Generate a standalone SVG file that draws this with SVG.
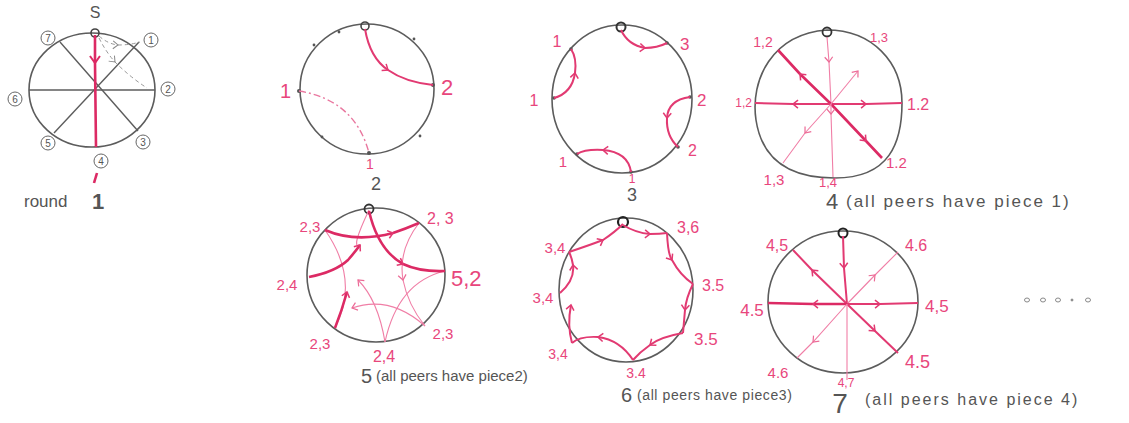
<svg xmlns="http://www.w3.org/2000/svg" width="1129" height="423" viewBox="0 0 1129 423">
<style>
.ring{fill:none;stroke:#5c5c5c;stroke-width:1.6}
.blk{fill:none;stroke:#5c5c5c;stroke-width:1.4}
.pk{fill:none;stroke:#e23a72;stroke-width:2}
.pkB{fill:none;stroke:#dc2a64;stroke-width:2.6}
.pkt{fill:none;stroke:#f07ea6;stroke-width:1.1}
.dash{fill:none;stroke:#999;stroke-width:1;stroke-dasharray:4 3}
.pdash{fill:none;stroke:#e9779f;stroke-width:1.4;stroke-dasharray:7 3 2 3}
.lbl{font-family:"Liberation Sans",Arial,sans-serif;fill:#e8467c}
.cap{font-family:"Liberation Sans",Arial,sans-serif;fill:#555}
.dot{fill:#555}
.num{fill:#fff;stroke:#666;stroke-width:1}
.nt{font-family:"Liberation Sans",Arial,sans-serif;fill:#555;font-size:10px;text-anchor:middle}
.mc{text-anchor:middle}
</style>
<defs>
<marker id="chev" viewBox="-7 -6 9 12" refX="0" refY="0" markerWidth="9" markerHeight="12" markerUnits="userSpaceOnUse" orient="auto"><path d="M-5,-4 L0,0 L-5,4" fill="none" stroke="#e23a72" stroke-width="1.5"/></marker>
<marker id="chevT" viewBox="-7 -6 9 12" refX="0" refY="0" markerWidth="9" markerHeight="12" markerUnits="userSpaceOnUse" orient="auto"><path d="M-5,-4 L0,0 L-5,4" fill="none" stroke="#ec6a96" stroke-width="1.2"/></marker>
<marker id="chevR" viewBox="-9 -7 11 14" refX="0" refY="0" markerWidth="11" markerHeight="14" markerUnits="userSpaceOnUse" orient="auto"><path d="M-7,-5 L0,0 L-7,5" fill="none" stroke="#dc2a64" stroke-width="2"/></marker>
<marker id="chevG" viewBox="-7 -6 9 12" refX="0" refY="0" markerWidth="9" markerHeight="12" markerUnits="userSpaceOnUse" orient="auto"><path d="M-5,-4 L0,0 L-5,4" fill="none" stroke="#888" stroke-width="1"/></marker>
</defs>
<rect width="1129" height="423" fill="#fff"/>

<!-- Panel 1: round 1 -->
<g id="round1">
<ellipse class="ring" cx="92" cy="90" rx="63" ry="57"/>
<line class="blk" x1="29" y1="90" x2="155" y2="90"/>
<line class="blk" x1="60" y1="42" x2="138" y2="131"/>
<line class="blk" x1="139" y1="42" x2="54" y2="133"/>
<text class="cap mc" x="95" y="18" font-size="16">S</text>
<circle cx="95" cy="33" r="4" fill="none" stroke="#444" stroke-width="1.6"/>
<g id="r1-n7"><circle class="num" cx="48" cy="38" r="7"/><text class="nt" x="48" y="42">7</text></g>
<g id="r1-n1"><circle class="num" cx="151" cy="40" r="7"/><text class="nt" x="151" y="44">1</text></g>
<g id="r1-n2"><circle class="num" cx="168" cy="89" r="7"/><text class="nt" x="168" y="93">2</text></g>
<g id="r1-n3"><circle class="num" cx="143" cy="142" r="7"/><text class="nt" x="143" y="146">3</text></g>
<g id="r1-n4"><circle class="num" cx="101" cy="161" r="7"/><text class="nt" x="101" y="165">4</text></g>
<g id="r1-n5"><circle class="num" cx="48" cy="143" r="7"/><text class="nt" x="48" y="147">5</text></g>
<g id="r1-n6"><circle class="num" cx="15" cy="99" r="7"/><text class="nt" x="15" y="103">6</text></g>
<text class="cap" x="24" y="207" font-size="17">round</text>
<text class="cap mc" x="98" y="209" font-size="22" font-weight="bold" fill="#333">1</text>
</g>

<!-- Panel 2 -->
<g id="round2">
<ellipse class="ring" cx="367" cy="89" rx="67" ry="65"/>
<circle cx="365" cy="26" r="4" fill="none" stroke="#444" stroke-width="1.6"/>
<g id="r2-n2"><circle class="dot" cx="433" cy="85" r="2"/><text class="lbl" x="441" y="95" font-size="22">2</text></g>
<g id="r2-nl"><circle class="dot" cx="299" cy="91" r="2"/><text class="lbl" x="280" y="98" font-size="20">1</text></g>
<g id="r2-nb"><circle class="dot" cx="369" cy="153" r="2"/><text class="lbl mc" x="370" y="169" font-size="14">1</text></g>
<circle class="dot" cx="339" cy="32" r="1.4"/><circle class="dot" cx="314" cy="45" r="1.4"/><circle class="dot" cx="414" cy="39" r="1.4"/><circle class="dot" cx="322" cy="137" r="1.4"/><circle class="dot" cx="420" cy="136" r="1.4"/>
<text class="cap mc" x="376" y="190" font-size="18">2</text>
</g>

<!-- Panel 3 -->
<g id="round3">
<ellipse class="ring" cx="622" cy="99" rx="70" ry="74"/>
<circle cx="621" cy="27" r="4.5" fill="none" stroke="#333" stroke-width="2"/>
<g id="r3-a"><circle class="dot" cx="667" cy="43" r="1.8"/><text class="lbl" x="680" y="50" font-size="17">3</text></g>
<g id="r3-b"><circle class="dot" cx="690" cy="97" r="1.8"/><text class="lbl" x="697" y="106" font-size="17">2</text></g>
<g id="r3-c"><circle class="dot" cx="678" cy="147" r="1.8"/><text class="lbl" x="688" y="156" font-size="16">2</text></g>
<g id="r3-d"><circle class="dot" cx="631" cy="172" r="1.8"/><text class="lbl mc" x="632" y="183" font-size="12">1</text></g>
<g id="r3-e"><circle class="dot" cx="577" cy="154" r="1.8"/><text class="lbl mc" x="563" y="167" font-size="15">1</text></g>
<g id="r3-f"><circle class="dot" cx="554" cy="98" r="1.8"/><text class="lbl mc" x="534" y="106" font-size="16">1</text></g>
<g id="r3-g"><circle class="dot" cx="571" cy="49" r="1.8"/><text class="lbl mc" x="557" y="47" font-size="16">1</text></g>
<text class="cap mc" x="632" y="201" font-size="18">3</text>
</g>

<!-- Panel 4 -->
<g id="round4">
<path class="ring" d="M827,30 C872,30 902,62 902,103 C902,142 890,178 835,178 C790,178 762,160 756,120 C750,80 772,34 827,30 Z"/>
<circle cx="827" cy="32" r="4.5" fill="none" stroke="#333" stroke-width="1.8"/>
<text class="lbl mc" x="763" y="47" font-size="14">1,2</text>
<text class="lbl mc" x="879" y="42" font-size="13">1,3</text>
<text class="lbl" x="752" y="107" font-size="12" text-anchor="end">1,2</text>
<text class="lbl" x="907" y="110" font-size="16">1.2</text>
<text class="lbl" x="886" y="168" font-size="15">1.2</text>
<text class="lbl mc" x="774" y="185" font-size="15">1,3</text>
<text class="lbl mc" x="828" y="187" font-size="13">1,4</text>
<text class="cap" x="826" y="209" font-size="22">4</text>
<text class="cap" x="846" y="207" font-size="17" letter-spacing="2">(all peers have piece 1)</text>
</g>

<!-- Panel 5 -->
<g id="round5">
<ellipse class="ring" cx="376" cy="275" rx="69" ry="67"/>
<circle cx="369" cy="209" r="4.5" fill="none" stroke="#333" stroke-width="1.8"/>
<text class="lbl mc" x="310" y="232" font-size="15">2,3</text>
<text class="lbl" x="427" y="224" font-size="16">2, 3</text>
<text class="lbl" x="451" y="286" font-size="22">5,2</text>
<text class="lbl mc" x="287" y="290" font-size="15">2,4</text>
<text class="lbl mc" x="320" y="349" font-size="15">2,3</text>
<text class="lbl mc" x="443" y="339" font-size="15">2,3</text>
<text class="lbl mc" x="384" y="362" font-size="16">2,4</text>
<text class="cap" x="361" y="383" font-size="20">5</text>
<text class="cap" x="376" y="381" font-size="15">(all peers have piece2)</text>
</g>

<!-- Panel 6 -->
<g id="round6">
<ellipse class="ring" cx="626" cy="290" rx="67" ry="72"/>
<circle cx="623" cy="222" r="5" fill="none" stroke="#222" stroke-width="2.2"/>
<text class="lbl" x="677" y="233" font-size="16">3,6</text>
<text class="lbl" x="702" y="291" font-size="16">3.5</text>
<text class="lbl" x="694" y="345" font-size="17">3.5</text>
<text class="lbl mc" x="636" y="378" font-size="14">3.4</text>
<text class="lbl mc" x="558" y="359" font-size="14">3,4</text>
<text class="lbl mc" x="543" y="303" font-size="15">3,4</text>
<text class="lbl mc" x="555" y="253" font-size="15">3,4</text>
<text class="cap" x="621" y="402" font-size="20">6</text>
<text class="cap" x="637" y="400" font-size="14" letter-spacing="0.6">(all peers have piece3)</text>
</g>

<!-- Panel 7 -->
<g id="round7">
<ellipse class="ring" cx="843" cy="302" rx="75" ry="71"/>
<circle cx="843" cy="233" r="4.5" fill="none" stroke="#222" stroke-width="2"/>
<text class="lbl mc" x="777" y="251" font-size="16">4,5</text>
<text class="lbl" x="905" y="251" font-size="16">4.6</text>
<text class="lbl mc" x="752" y="316" font-size="17">4.5</text>
<text class="lbl" x="925" y="312" font-size="17">4,5</text>
<text class="lbl" x="905" y="368" font-size="18">4.5</text>
<text class="lbl mc" x="778" y="378" font-size="15">4.6</text>
<text class="lbl mc" x="846" y="387" font-size="12">4,7</text>
<text class="cap mc" x="840" y="413" font-size="28">7</text>
<text class="cap" x="865" y="405" font-size="16" letter-spacing="2">(all peers have piece 4)</text>
</g>

<g id="ellipsis" fill="none" stroke="#888" stroke-width="1">
<ellipse cx="1027" cy="300" rx="2.5" ry="2"/>
<ellipse cx="1043" cy="300" rx="2.5" ry="2"/>
<ellipse cx="1058" cy="300" rx="2.5" ry="2"/>
<circle cx="1072" cy="300" r="1" fill="#888"/>
<ellipse cx="1088" cy="300" rx="2.5" ry="2"/>
</g>

<g id="connectors">
<!-- round 1 -->
<polyline class="pkB" points="95,35 95,63 96,147" marker-mid="url(#chevR)"/>
<path class="dash" d="M99,36 Q108,44 118,45 Q130,45 140,42" marker-mid="url(#chevG)"/>
<path class="dash" d="M99,38 Q106,52 115,62 Q130,77 147,88" marker-mid="url(#chevG)"/>
<line class="pkB" x1="97" y1="173" x2="94" y2="183"/>
<!-- round 2 -->
<path class="pk" d="M365,29 Q370,58 388,70 Q405,82 433,85" marker-mid="url(#chev)"/>
<path class="pdash" d="M299,91 Q355,100 369,153"/>
<!-- round 3 -->
<path class="pk" d="M621,30 Q628,45 645,48 Q657,48 667,43" marker-mid="url(#chev)"/>
<path class="pk" d="M554,98 Q572,93 575,73 Q577,58 571,49" marker-mid="url(#chev)"/>
<path class="pk" d="M690,97 Q668,100 667,118 Q666,136 678,147" marker-mid="url(#chev)"/>
<path class="pk" d="M631,172 Q628,152 603,150 Q585,149 577,154" marker-mid="url(#chev)"/>
<!-- round 4 -->
<polyline class="pkt" points="827,37 829,62 831,104" marker-mid="url(#chevT)"/>
<polyline class="pkB" points="831,104 800,74 778,50" marker-mid="url(#chev)"/>
<polyline class="pk" points="831,104 793,104 755,103" marker-mid="url(#chev)"/>
<polyline class="pk" points="831,104 866,104 902,103" marker-mid="url(#chev)"/>
<polyline class="pkB" points="831,104 866,141 882,158" marker-mid="url(#chev)"/>
<polyline class="pkt" points="831,104 805,133 783,163" marker-mid="url(#chevT)"/>
<polyline class="pkt" points="831,104 831,114 833,177" marker-mid="url(#chevT)"/>
<line class="pkt" x1="831" y1="104" x2="858" y2="71" marker-end="url(#chevT)"/>
<!-- round 5 -->
<path class="pkt" d="M325,230 Q360,280 335,328"/>
<path class="pkt" d="M419,223 Q398,250 403,280 Q408,305 425,326" marker-mid="url(#chevT)"/>
<path class="pkt" d="M445,271 Q398,282 385,342"/>
<path class="pkt" d="M425,326 Q390,295 352,308" marker-end="url(#chevT)"/>
<path class="pkt" d="M385,342 Q378,300 358,280" marker-end="url(#chevT)"/>
<path class="pkt" d="M369,210 Q350,250 360,245"/>
<path class="pkB" d="M369,211 Q378,250 403,264 Q420,272 445,271" marker-mid="url(#chev)"/>
<path class="pkB" d="M325,230 Q355,243 393,233 Q405,229 419,223" marker-mid="url(#chev)"/>
<path class="pkB" d="M309,277 Q335,272 348,260 Q355,252 360,245" marker-end="url(#chev)"/>
<path class="pkB" d="M335,328 Q342,310 347,292" marker-end="url(#chev)"/>
<!-- round 6 -->
<path class="pk" d="M623,225 Q636,233 650,234 Q660,234 667,233" marker-mid="url(#chev)"/>
<path class="pk" d="M667,233 Q668,255 672,260 Q680,275 693,284" marker-mid="url(#chev)"/>
<path class="pk" d="M693,284 Q686,298 685,310 Q684,322 683,333" marker-mid="url(#chev)"/>
<path class="pk" d="M683,333 Q660,337 650,345 Q640,352 633,360" marker-mid="url(#chev)"/>
<path class="pk" d="M633,360 Q620,340 598,337 Q580,336 572,343" marker-mid="url(#chev)"/>
<path class="pk" d="M572,343 Q567,325 571,305" marker-end="url(#chev)"/>
<path class="pk" d="M560,293 Q575,280 573,265 Q572,258 569,252" marker-mid="url(#chev)"/>
<path class="pk" d="M569,252 Q590,245 603,240 Q615,232 623,224" marker-mid="url(#chev)"/>
<!-- round 7 -->
<polyline class="pk" points="843,236 844,268 847,304" marker-mid="url(#chev)"/>
<polyline class="pk" points="847,304 812,270 793,250" marker-mid="url(#chev)"/>
<polyline class="pkt" points="847,304 875,275 898,252" marker-mid="url(#chevT)"/>
<polyline class="pkB" points="847,304 813,304 768,303" marker-mid="url(#chev)"/>
<polyline class="pk" points="847,304 880,304 918,303" marker-mid="url(#chev)"/>
<polyline class="pk" points="847,304 875,331 898,353" marker-mid="url(#chev)"/>
<polyline class="pkt" points="847,304 813,342 797,358" marker-mid="url(#chevT)"/>
<line class="pkt" x1="847" y1="304" x2="847" y2="380"/>
</g>
</svg>
